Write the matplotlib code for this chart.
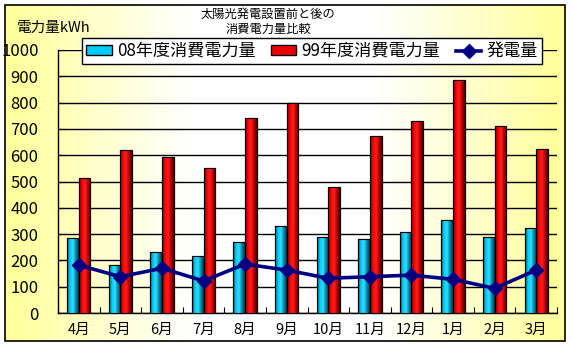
import numpy as np
import matplotlib
matplotlib.use("Agg")
import matplotlib.pyplot as plt
from matplotlib.colors import LinearSegmentedColormap
from matplotlib.patches import Rectangle, Patch
from matplotlib.lines import Line2D

plt.rcParams['font.family'] = ['Noto Sans CJK JP', 'DejaVu Sans']

# data
months = ['4月', '5月', '6月', '7月', '8月', '9月', '10月', '11月', '12月', '1月', '2月', '3月']
use_08 = [284, 181, 231, 216, 269, 331, 288, 280, 307, 352, 288, 322]
use_99 = [512, 619, 592, 550, 740, 798, 478, 672, 729, 886, 710, 622]
gen = [182, 138, 170, 122, 186, 163, 132, 138, 144, 128, 94, 163]

fig = plt.figure(figsize=(5.71, 3.46), dpi=100)

# background: yellow - white - yellow gradient inside a black frame
bg = fig.add_axes([0, 0, 1, 1], zorder=-1)
bg_cmap = LinearSegmentedColormap.from_list('bg', ['#FFFF99', '#FFFFFF', '#FFFFFF', '#FFFF99'])
fx0, fx1 = 5 / 571, 565 / 571
fy0, fy1 = 5 / 346, 341 / 346
bg.imshow(np.linspace(0, 1, 256).reshape(1, -1), cmap=bg_cmap, aspect='auto',
          extent=[fx0, fx1, fy0, fy1])
bg.add_patch(Rectangle((fx0, fy0), fx1 - fx0, fy1 - fy0, fill=False, ec='black', lw=1.2))
bg.set_xlim(0, 1)
bg.set_ylim(0, 1)
bg.axis('off')

ax = fig.add_axes([58 / 571, 33 / 346, 499 / 571, 263 / 346])
ax.patch.set_alpha(0)

x = np.arange(len(months))
w = 0.28
b1 = ax.bar(x - w / 2, use_08, w, color='#00CCFF', edgecolor='black', lw=0.8, zorder=3)
b2 = ax.bar(x + w / 2, use_99, w, color='#FF0000', edgecolor='black', lw=0.8, zorder=3)

# cylinder-like shading on the bars
cyan_cmap = LinearSegmentedColormap.from_list('c', ['#005566', '#00CCFF', '#33DDFF', '#0088AA', '#003344'])
red_cmap = LinearSegmentedColormap.from_list('r', ['#660000', '#FF0000', '#FF2020', '#BB0000', '#440000'])
grad = np.linspace(0, 1, 64).reshape(1, -1)
for bars, cm in [(b1, cyan_cmap), (b2, red_cmap)]:
    for bar in bars:
        bx, by = bar.get_x(), bar.get_y()
        bw, bh = bar.get_width(), bar.get_height()
        im = ax.imshow(grad, cmap=cm, aspect='auto', extent=[bx, bx + bw, by, by + bh], zorder=3.1)
        im.set_clip_path(bar)
        ax.add_patch(Rectangle((bx, by), bw, bh, fill=False, ec='black', lw=0.8, zorder=3.2))

ax.plot(x, gen, color='#000080', lw=2.6, marker='D', ms=7, zorder=4)

ax.set_xlim(-0.5, len(months) - 0.5)
ax.set_ylim(0, 1000)
ax.set_yticks(range(0, 1001, 100))
ax.set_xticks(x)
ax.set_xticklabels(months)
ax.set_xticks(np.arange(-0.5, len(months)), minor=True)
ax.tick_params(axis='x', which='major', length=0, labelsize=10.5, pad=7)
ax.tick_params(axis='x', which='minor', direction='in', length=4, width=0.8)
ax.tick_params(axis='y', direction='in', length=5, labelsize=12, pad=14)
ax.yaxis.grid(True, color='black', lw=1.0, zorder=0)
ax.spines['top'].set_visible(False)
ax.spines['right'].set_visible(False)
ax.spines['left'].set_linewidth(1.0)
ax.spines['bottom'].set_linewidth(1.0)

fig.text(17 / 571, 1 - 28 / 346, '電力量kWh', fontsize=10.5, va='center', ha='left')
fig.text(268 / 571, 1 - 22 / 346, '太陽光発電設置前と後の\n消費電力量比較', fontsize=8.8,
         ha='center', va='center', linespacing=1.25)

handles = [Patch(facecolor='#00CCFF', edgecolor='black'),
           Patch(facecolor='#EE0000', edgecolor='black'),
           Line2D([], [], color='#000080', lw=2.6, marker='D', ms=7)]
labels = ['08年度消費電力量', '99年度消費電力量', '発電量']
leg = fig.legend(handles, labels, loc='center', bbox_to_anchor=(312 / 571, 1 - 51 / 346),
                 ncol=3, fontsize=12.3, frameon=True, fancybox=False, framealpha=1,
                 edgecolor='black', handlelength=1.5, handleheight=0.5, columnspacing=0.9,
                 handletextpad=0.3, borderpad=0.25, borderaxespad=0)
leg.get_frame().set_linewidth(1.0)

fig.savefig('out.png', dpi=100)
